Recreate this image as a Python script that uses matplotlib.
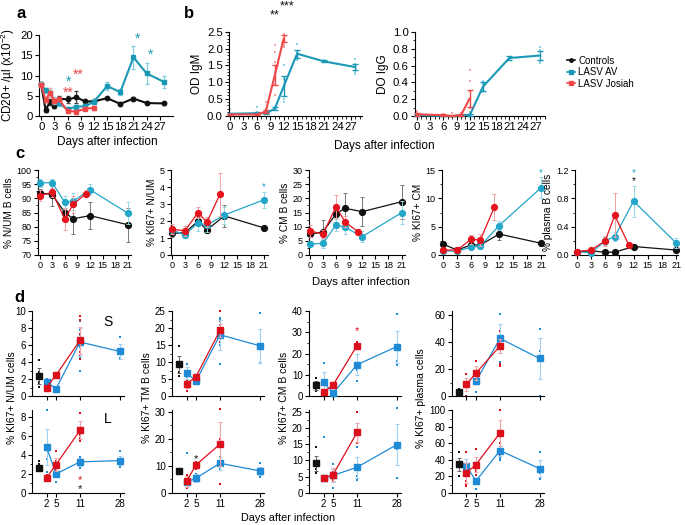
import matplotlib
matplotlib.use('Agg')
import matplotlib.pyplot as plt
import matplotlib.transforms as mtrans
from matplotlib.ticker import MultipleLocator, AutoMinorLocator, FormatStrFormatter
from matplotlib.lines import Line2D

plt.rcParams['font.family'] = ['Liberation Sans', 'DejaVu Sans']
plt.rcParams['mathtext.fontset'] = 'custom'
plt.rcParams['mathtext.rm'] = 'Liberation Sans'
plt.rcParams['mathtext.it'] = 'Liberation Sans:italic'
plt.rcParams['axes.linewidth'] = 0.8

# ---------------- data: panel a (CD20+ /ul) ----------------
a_ctrl_days = [0, 1, 2, 3, 4, 6, 8, 10, 12, 15, 18, 21, 24, 28]
a_ctrl = [7.8, 1.5, 3.5, 2.5, 4.3, 4.1, 4.6, 3.6, 3.6, 4.4, 3.0, 4.3, 3.2, 3.1]
a_ctrl_err = [0.5, 0.4, 0.8, 0.6, 0.6, 0.8, 1.5, 0.4, 0.4, 0.3, 0.3, 0.3, 0.3, 0.3]
a_av_days = [0, 1, 2, 3, 4, 6, 8, 10, 12, 15, 18, 21, 24, 28]
a_av = [7.7, 6.3, 5.6, 3.8, 3.1, 1.7, 2.3, 2.4, 3.5, 7.4, 5.9, 14.5, 10.5, 8.4]
a_av_err = [0.6, 0.6, 0.8, 0.8, 0.6, 0.5, 0.5, 0.5, 0.6, 1.0, 0.8, 2.9, 2.7, 1.5]
a_jos_days = [0, 1, 2, 3, 4, 6, 8, 10, 12]
a_jos = [7.7, 3.9, 5.8, 3.8, 4.2, 1.2, 1.1, 1.8, 2.0]
a_jos_err = [0.5, 0.5, 1.0, 0.6, 0.6, 0.3, 0.2, 0.4, 0.4]
a_xticks = [0, 3, 6, 9, 12, 15, 18, 21, 24, 27]

# ---------------- data: panel b (OD IgM / IgG) ----------------
b_av_days = [0, 6, 8, 10, 12, 15, 21, 28]
b_av_igm = [0.05, 0.07, 0.07, 0.2, 0.87, 1.85, 1.62, 1.45]
b_av_igm_err = [0.03, 0.03, 0.03, 0.04, 0.3, 0.12, 0.03, 0.08]
b_av_igm_pts = [[0.2, 0.05, 0.02], [0.25, 0.1, 0.02], [0.1, 0.05], [0.25, 0.2, 0.15],
                [1.5, 1.1, 0.8, 0.5, 0.4], [2.15, 1.9, 1.75, 1.65], [1.65, 1.6], [1.7, 1.55, 1.3, 1.25]]
b_jos_days = [0, 6, 8, 10, 12]
b_jos_igm = [0.03, 0.03, 0.12, 1.2, 2.3]
b_jos_igm_err = [0.02, 0.02, 0.05, 0.3, 0.1]
b_jos_igm_pts = [[0.05, 0.02], [0.04], [0.4, 0.2, 0.1, 0.05], [2.1, 1.9, 1.6, 1.2, 0.9, 0.6],
                 [2.45, 2.4, 2.3, 2.2, 2.1, 2.05]]
b_av_igg = [0.01, 0.0, 0.0, 0.01, 0.01, 0.35, 0.69, 0.72]
b_av_igg_err = [0.01, 0.005, 0.005, 0.005, 0.01, 0.05, 0.02, 0.05]
b_av_igg_pts = [[0.03, 0.01], [0.01], [0.0], [0.04, 0.02], [0.05, 0.03],
                [0.42, 0.38, 0.3, 0.28], [0.7, 0.68], [0.82, 0.78, 0.65, 0.63]]
b_jos_igg = [0.02, 0.01, 0.0, 0.01, 0.21]
b_jos_igg_err = [0.02, 0.01, 0.0, 0.01, 0.1]
b_jos_igg_pts = [[0.06, 0.03], [0.02], [0.04], [0.03], [0.55, 0.42, 0.3, 0.1, 0.05]]
b_xticks = [0, 3, 6, 9, 12, 15, 18, 21, 24, 27]

# ---------------- data: panel c ----------------
c_ctrl_days = [0, 3, 6, 8, 12, 21]
c_av_days = [0, 3, 6, 8, 12, 21]
c_jos_days = [0, 3, 6, 8, 11]
c_xticks = [0, 3, 6, 9, 12, 15, 18, 21]
c_labels = ['% N/UM B cells', '% KI67+ N/UM', '% CM B cells', '% KI67+ CM', '% plasma B cells']
c_ctrl = [[91.9, 91.3, 85.0, 82.8, 83.9, 80.7],
          [1.27, 1.31, 2.0, 1.47, 2.3, 1.6],
          [7.3, 8.2, 14.5, 16.5, 15.3, 18.8],
          [1.94, 0.88, 1.76, 1.76, 3.7, 2.06],
          [0.047, 0.06, 0.038, 0.04, 0.12, 0.07]]
c_ctrl_err = [[1.5, 4.0, 1.5, 5.5, 4.8, 6.0],
              [0.2, 0.2, 0.25, 0.2, 0.65, 0.1],
              [1.0, 4.0, 3.0, 5.5, 5.0, 6.0],
              [0.2, 0.2, 0.3, 0.3, 1.1, 0.2],
              [0.01, 0.01, 0.01, 0.01, 0.02, 0.01]]
c_av = [[95.5, 95.5, 88.6, 89.0, 93.1, 84.8],
        [1.47, 1.18, 1.9, 1.76, 2.35, 3.24],
        [3.9, 4.1, 10.6, 9.8, 6.5, 14.9],
        [0.7, 0.7, 1.35, 1.6, 5.2, 11.9],
        [0.047, 0.03, 0.2, 0.26, 0.76, 0.17]]
c_av_err = [[1.5, 1.3, 2.2, 3.0, 2.0, 3.8],
            [0.25, 0.2, 0.5, 0.4, 0.5, 0.45],
            [1.0, 1.5, 2.0, 2.5, 2.0, 4.0],
            [0.2, 0.2, 0.3, 0.4, 0.8, 1.8],
            [0.01, 0.01, 0.06, 0.06, 0.22, 0.07]]
c_jos = [[91.0, 92.1, 82.7, 87.9, 91.6],
         [1.51, 1.43, 2.5, 1.92, 3.57],
         [8.5, 7.4, 17.1, 11.8, 8.2],
         [0.88, 0.88, 2.76, 2.65, 8.5],
         [0.047, 0.07, 0.2, 0.56, 0.14]]
c_jos_err = [[2.0, 1.5, 4.0, 3.0, 1.2],
             [0.3, 0.3, 0.35, 0.3, 1.25],
             [2.0, 1.5, 4.0, 2.0, 1.0],
             [0.2, 0.2, 0.8, 1.0, 2.3],
             [0.01, 0.02, 0.07, 0.31, 0.03]]
c_ylims = [(70, 100), (0, 5), (0, 30), (0, 15), (0, 1.2)]
c_ysteps = [5, 1, 5, 5, 0.4]

# ---------------- data: panel d ----------------
d_days_labels = ['2', '5', '11', '28']
d_col_labels = ['% KI67+ N/UM cells', '% KI67+ TM B cells', '% KI67+ CM B cells', '% KI67+ plasma cells']
d_ctrl = [[2.35, 9.4, 5.0, 3.0], [2.65, 8.2, 9.1, 34.8]]
d_ctrl_err = [[0.9, 2.5, 2.0, 2.0], [0.3, 0.3, 2.3, 8.0]]
d_ctrl_pts = [[[4.2, 2.8, 1.7, 1.45, 1.05], [14.6, 7.2, 5.8], [8.7, 4.7, 3.0, 2.5], [5.5, 4.0, 2.0]],
              [[3.4, 3.0, 2.8, 2.4], [], [14.0, 7.5, 6.5, 6.2], [50, 21]]]
d_jos_days = [2, 5, 11]
d_jos = [[[1.0, 2.45, 6.55], [3.5, 5.7, 19.3], [1.9, 5.1, 23.7], [8.7, 17.0, 37.0]],
         [[1.58, 2.98, 6.56], [4.3, 10.4, 18.1], [4.6, 5.6, 18.6], [24.5, 34.4, 72.7]]]
d_jos_err = [[[0.15, 0.15, 1.6], [1.0, 0.5, 2.0], [0.5, 1.0, 1.2], [5.0, 5.0, 5.0]],
             [[0.2, 0.7, 0.95], [2.0, 1.1, 8.0], [0.5, 2.0, 3.0], [12.0, 9.0, 16.0]]]
d_jos_pts = [[[[1.2, 0.9], [2.6, 2.4], [9.4, 9.0, 7.3, 6.7, 5.2, 4.7, 4.4]],
              [[4.7, 2.5, 1.6], [6.0, 5.3], [25, 22, 20, 18, 17, 16]],
              [[2.5, 1.5], [6.0, 4.5], [25.5, 24.5, 23]],
              [[16.5, 0], [26, 12], [48, 40, 24, 22]]],
             [[[1.9, 1.5, 1.3], [4.4, 3.4, 2.4, 1.8], [8.4, 6.1, 5.8, 5.4]],
              [[6.5, 3.2, 1.9], [11.5, 9.0], [31, 19.8, 3.5]],
              [[5.0, 4.2], [6.5, 4.0], [24.9, 15.5]],
              [[50, 14, 10, 8], [53, 28, 25, 22], [100, 60, 45]]]]
d_av_days = [[[2, 5, 11, 28], [2, 5, 11, 28], [2, 5, 11, 28], [5, 11, 28]],
             [[2, 5, 11, 28], [2, 5, 11, 28], [2, 5, 11, 28], [2, 5, 11, 28]]]
d_av = [[[1.65, 0.85, 6.35, 5.25], [6.8, 4.4, 18.0, 14.8], [6.6, 1.3, 14.7, 23.2], [10.9, 42.7, 27.8]],
        [[4.84, 2.0, 3.26, 3.4], [4.0, 5.5, 11.0, 8.2], [4.6, 5.4, 7.9, 14.8], [32.4, 14.6, 51.4, 29.6]]]
d_av_err = [[[0.35, 0.2, 1.7, 0.85], [1.8, 0.5, 4.5, 5.0], [4.5, 0.5, 5.0, 7.6], [2.0, 10.5, 15.0]],
            [[1.9, 0.35, 0.4, 0.5], [1.0, 1.5, 2.5, 1.5], [0.5, 2.0, 3.2, 6.3], [9.0, 4.0, 6.0, 10.0]]]
d_av_pts = [[[[2.0, 1.6, 1.3], [1.0, 0.7], [8.8, 7.8, 7.2, 6.6, 5.8, 4.6, 3.0], [6.9, 4.5, 4.3]],
             [[9.3, 5.5], [4.8, 4.0], [23, 22.5, 21, 15, 9.3], [24.4, 9.8]],
             [[15.4, 2.5], [1.6, 1.0], [12.3, 7.1], [38.4, 16.6, 14.7]],
             [[3.0], [61, 25], [50, 33, 0]]],
            [[[8.7, 3.6, 2.2], [2.5, 1.8, 1.2], [3.8, 3.4, 3.0, 2.6], [4.4, 3.6, 3.0, 2.7]],
             [[14.7], [7.0, 4.5, 4.0], [13.5, 10, 9], [11, 7, 6]],
             [[17.2], [9.0, 1.6], [14.2, 5.1, 4.1], [26, 13.5, 4.5]],
             [[24, 20], [17, 5], [42, 40], [50, 24, 17]]]]
d_ylims = [[(0, 10), (0, 25), (0, 40), (0, 63)], [(0, 8.7), (0, 30.7), (0, 25.5), (0, 100.5)]]
d_ysteps = [[2, 5, 10, 20], [2, 10, 5, 20]]

# ---------------- style ----------------
BLACK = '#111111'
A_CYAN = '#1a98b5'
A_RED = '#f04848'
C_CYAN = '#23a6c8'
C_RED = '#e5131c'
D_BLUE = '#1f8ad6'
D_RED = '#dc101c'

W, H = 685, 525
fig = plt.figure(figsize=(W / 100, H / 100), dpi=100)


def px_axes(l, t, r, b):
    return fig.add_axes([l / W, 1 - b / H, (r - l) / W, (b - t) / H])


def style(ax, fs):
    for s in ['top', 'right']:
        ax.spines[s].set_visible(False)
    ax.tick_params(axis='both', which='major', direction='out', length=3, width=0.8,
                   labelsize=fs, pad=1.5)
    ax.tick_params(axis='both', which='minor', direction='out', length=1.8, width=0.6)


def star(ax, x, y, txt, color, fs):
    tr = mtrans.offset_copy(ax.transData, fig=fig, y=-0.6 * fs, units='points')
    ax.text(x, y, txt, color=color, fontsize=fs, ha='center', va='baseline',
            transform=tr, clip_on=False)


def ftxt(x, y, s, **kw):
    fig.text(x / W, 1 - y / H, s, **kw)


# ---------------- panel a ----------------
ax = px_axes(39, 35, 173, 116)
style(ax, 8.2)
ax.errorbar(a_ctrl_days, a_ctrl, yerr=a_ctrl_err, color=BLACK, ecolor='#444444', marker='o',
            ms=3.2, lw=1.5, elinewidth=0.8, capsize=1.2, clip_on=False, zorder=3)
ax.errorbar(a_av_days, a_av, yerr=a_av_err, color=A_CYAN, ecolor='#7fcfe0', marker='s',
            ms=3.0, lw=1.5, elinewidth=0.8, capsize=1.2, clip_on=False, zorder=4)
ax.errorbar(a_jos_days, a_jos, yerr=a_jos_err, color=A_RED, ecolor='#f5a5a5', marker='s',
            ms=3.0, lw=1.5, elinewidth=0.8, capsize=1.2, clip_on=False, zorder=5)
ax.set_xlim(-0.5, 30)
ax.set_ylim(0, 20)
ax.set_xticks(a_xticks)
ax.yaxis.set_major_locator(MultipleLocator(5))
ax.set_ylabel('CD20+ /µl (x10$^{-2}$)', fontsize=8.5, labelpad=2)
star(ax, 6.2, 9.4, '*', A_CYAN, 10)
star(ax, 6.2, 6.8, '**', A_RED, 10)
star(ax, 8.4, 11.3, '**', A_RED, 10)
star(ax, 21.9, 20.2, '*', A_CYAN, 10)
star(ax, 24.9, 16.3, '*', A_CYAN, 10)
ftxt(107, 142, 'Days after infection', fontsize=8.5, ha='center', va='center')

# ---------------- panel b ----------------
def draw_b(ax, av, av_err, av_pts, jos, jos_err, jos_pts):
    for d, pts in zip(b_av_days, av_pts):
        ax.plot([d] * len(pts), pts, 's', color='#8fd3e3', ms=1.8, mew=0, clip_on=False, zorder=2)
    for d, pts in zip(b_jos_days, jos_pts):
        ax.plot([d] * len(pts), pts, 's', color='#f7a3a3', ms=1.8, mew=0, clip_on=False, zorder=2)
    ax.errorbar(b_av_days, av, yerr=av_err, color=A_CYAN, lw=1.5, elinewidth=1.0,
                capsize=2, capthick=1.0, clip_on=False, zorder=3)
    ax.errorbar(b_jos_days, jos, yerr=jos_err, color=A_RED, lw=1.5, elinewidth=1.0,
                capsize=2, capthick=1.0, clip_on=False, zorder=4)
    ax.set_xticks(b_xticks)
    ax.xaxis.set_minor_locator(MultipleLocator(1))


ax = px_axes(229, 32, 362, 115.5)
style(ax, 8.2)
draw_b(ax, b_av_igm, b_av_igm_err, b_av_igm_pts, b_jos_igm, b_jos_igm_err, b_jos_igm_pts)
ax.set_xlim(-0.22, 29.5)
ax.set_ylim(0, 2.5)
ax.yaxis.set_major_locator(MultipleLocator(0.5))
ax.yaxis.set_minor_locator(MultipleLocator(0.1))
ax.yaxis.set_major_formatter(FormatStrFormatter('%.1f'))
ax.set_ylabel('OD IgM', fontsize=8.5, labelpad=3)

ax = px_axes(415, 32, 545, 116)
style(ax, 8.2)
draw_b(ax, b_av_igg, b_av_igg_err, b_av_igg_pts, b_jos_igg, b_jos_igg_err, b_jos_igg_pts)
ax.set_xlim(-0.45, 29.1)
ax.set_ylim(0, 1.0)
ax.yaxis.set_major_locator(MultipleLocator(0.2))
ax.yaxis.set_minor_locator(MultipleLocator(0.1))
ax.yaxis.set_major_formatter(FormatStrFormatter('%.1f'))
ax.set_ylabel('DO IgG', fontsize=8.5, labelpad=3)

ftxt(287, 6, '***', fontsize=9, ha='center', va='center', color=BLACK)
ftxt(275, 15, '**', fontsize=9, ha='center', va='center', color=BLACK)
ftxt(384, 146, 'Days after infection', fontsize=8.5, ha='center', va='center')

# legend
handles = [Line2D([], [], color=BLACK, marker='o', ms=2.5, lw=1.2),
           Line2D([], [], color=A_CYAN, marker='s', ms=2.5, lw=1.2),
           Line2D([], [], color=A_RED, marker='s', ms=2.5, lw=1.2)]
fig.legend(handles, ['Controls', 'LASV AV', 'LASV Josiah'], loc='upper left',
           bbox_to_anchor=(562 / W, 1 - 51 / H), frameon=False, fontsize=7,
           handlelength=0.8, handletextpad=0.35, labelspacing=0.15, borderpad=0)

# ---------------- panel c ----------------
c_boxes = [(38, 131, -0.4, 21.8), (171, 268, -0.2, 22.0), (309, 405, -0.2, 21.8),
           (442, 545, -0.2, 21.8), (575, 678, -0.4, 21.4)]
c_axes = []
for i in range(5):
    l, r, x0, x1 = c_boxes[i]
    ax = px_axes(l, 170, r, 255)
    style(ax, 6.5)
    ax.errorbar(c_ctrl_days, c_ctrl[i], yerr=c_ctrl_err[i], color=BLACK, ecolor='#777777',
                marker='o', ms=4.2, lw=0.9, elinewidth=0.7, capsize=1.5, capthick=0.7,
                clip_on=False, zorder=3)
    ax.errorbar(c_av_days, c_av[i], yerr=c_av_err[i], color=C_CYAN, ecolor='#93d5e8',
                marker='o', ms=4.2, lw=0.9, elinewidth=0.7, capsize=1.5, capthick=0.7,
                clip_on=False, zorder=4)
    ax.errorbar(c_jos_days, c_jos[i], yerr=c_jos_err[i], color=C_RED, ecolor='#f3a0a2',
                marker='o', ms=4.2, lw=0.9, elinewidth=0.7, capsize=1.5, capthick=0.7,
                clip_on=False, zorder=5)
    ax.set_xlim(x0, x1)
    ax.set_ylim(*c_ylims[i])
    ax.set_xticks(c_xticks)
    ax.yaxis.set_major_locator(MultipleLocator(c_ysteps[i]))
    ax.yaxis.set_minor_locator(AutoMinorLocator(2))
    if i == 4:
        ax.yaxis.set_major_formatter(FormatStrFormatter('%.1f'))
    ax.set_ylabel(c_labels[i], fontsize=7.3, labelpad=2)
    c_axes.append(ax)
star(c_axes[1], 21, 4.18, '*', C_CYAN, 7)
star(c_axes[3], 21, 15.0, '*', C_CYAN, 7)
star(c_axes[4], 12, 1.2, '*', C_CYAN, 7)
star(c_axes[4], 12, 1.08, '*', BLACK, 7)
ftxt(361, 282, 'Days after infection', fontsize=8.2, ha='center', va='center')

# ---------------- panel d ----------------
d_pos = {'C': 7, 2: 14.5, 5: 24, 11: 48, 28: 87.5}
d_left = [32, 172, 309, 452]
d_rows = [(311, 396), (410, 493)]
for row in range(2):
    t, b = d_rows[row]
    for col in range(4):
        l = d_left[col]
        ax = px_axes(l, t, l + 92, b)
        style(ax, 7)
        xc = d_pos['C']
        pts = d_ctrl_pts[row][col]
        ax.plot([xc] * len(pts), pts, 's', color=BLACK, ms=1.8, mew=0, clip_on=False, zorder=2)
        ax.errorbar([xc], [d_ctrl[row][col]], yerr=[d_ctrl_err[row][col]], color=BLACK,
                    ecolor='#666666', marker='s', ms=4.2, elinewidth=0.7, capsize=1.5,
                    capthick=0.7, clip_on=False, zorder=5)
        days = d_av_days[row][col]
        xs = [d_pos[d] for d in days]
        for x, pts in zip(xs, d_av_pts[row][col]):
            ax.plot([x] * len(pts), pts, 's', color=D_BLUE, ms=1.8, mew=0, clip_on=False, zorder=2)
        ax.errorbar(xs, d_av[row][col], yerr=d_av_err[row][col], color=D_BLUE,
                    ecolor='#a3cff0', marker='s', ms=4.2, lw=0.9, elinewidth=0.8, capsize=1.5,
                    capthick=0.8, clip_on=False, zorder=4)
        xs = [d_pos[d] for d in d_jos_days]
        for x, pts in zip(xs, d_jos_pts[row][col]):
            ax.plot([x] * len(pts), pts, 's', color=D_RED, ms=1.8, mew=0, clip_on=False, zorder=2)
        ax.errorbar(xs, d_jos[row][col], yerr=d_jos_err[row][col], color=D_RED,
                    ecolor='#f2a3a6', marker='s', ms=4.2, lw=0.9, elinewidth=0.8, capsize=1.5,
                    capthick=0.8, clip_on=False, zorder=5)
        ax.set_xlim(0, 92)
        ax.set_ylim(*d_ylims[row][col])
        ax.set_xticks([d_pos[2], d_pos[5], d_pos[11], d_pos[28]])
        if row == 1:
            ax.set_xticklabels(d_days_labels)
        else:
            ax.set_xticklabels([])
        ax.yaxis.set_major_locator(MultipleLocator(d_ysteps[row][col]))
        ax.yaxis.set_minor_locator(AutoMinorLocator(2))
        if row == 0 and col == 0:
            ax.text(76, 8.7, 'S', fontsize=10, ha='center', va='center')
        if row == 1 and col == 0:
            ax.text(76, 7.8, 'L', fontsize=10, ha='center', va='center')
            star(ax, d_pos[11], 1.75, '*', D_RED, 8)
            star(ax, d_pos[11], 0.75, '*', BLACK, 8)
        if row == 1 and col == 1:
            star(ax, d_pos[5], 14.0, '*', BLACK, 8)
        if row == 0 and col == 2:
            star(ax, d_pos[11], 32.2, '*', D_RED, 8)

d_lab_x = [12, 147, 284, 421]
for col in range(4):
    ftxt(d_lab_x[col], 398, d_col_labels[col], fontsize=7.5, rotation=90,
         ha='center', va='center')
ftxt(288, 518, 'Days after infection', fontsize=7.8, ha='center', va='center')

# panel letters
ftxt(21, 13, 'a', fontsize=12, fontweight='bold', ha='center', va='center')
ftxt(189, 13, 'b', fontsize=12, fontweight='bold', ha='center', va='center')
ftxt(20, 154, 'c', fontsize=12, fontweight='bold', ha='center', va='center')
ftxt(19, 297, 'd', fontsize=12, fontweight='bold', ha='center', va='center')

fig.savefig('out.png', dpi=100)
